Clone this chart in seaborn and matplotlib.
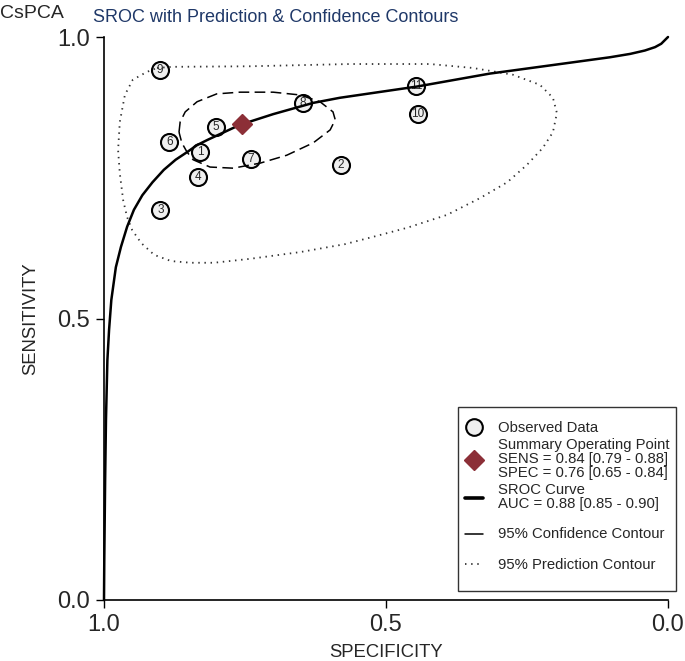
import matplotlib
matplotlib.use("Agg")
import matplotlib.pyplot as plt
from matplotlib.lines import Line2D
import seaborn as sns
import pandas as pd

# observed studies
study_ids = ["1", "2", "3", "4", "5", "6", "7", "8", "9", "10", "11"]
study_spec = [0.830, 0.580, 0.900, 0.833, 0.802, 0.884, 0.740, 0.647, 0.901, 0.443, 0.447]
study_sens = [0.796, 0.773, 0.693, 0.751, 0.840, 0.813, 0.783, 0.883, 0.941, 0.863, 0.913]

# summary operating point
summary_spec = [0.755]
summary_sens = [0.845]

# SROC curve
sroc_spec = [1.000, 0.9995, 0.998, 0.9965, 0.994, 0.991, 0.987, 0.979, 0.970, 0.959,
             0.947, 0.932, 0.914, 0.894, 0.873, 0.852, 0.835, 0.817, 0.759, 0.700,
             0.629, 0.582, 0.445, 0.316, 0.191, 0.103, 0.067, 0.041, 0.023, 0.012,
             0.005, 0.000]
sroc_sens = [0.000, 0.071, 0.213, 0.320, 0.426, 0.480, 0.533, 0.591, 0.627, 0.663,
             0.693, 0.719, 0.742, 0.764, 0.782, 0.796, 0.808, 0.817, 0.844, 0.863,
             0.883, 0.892, 0.912, 0.935, 0.952, 0.964, 0.970, 0.976, 0.982, 0.988,
             0.995, 1.000]

# 95% confidence contour
conf_spec = [0.867, 0.865, 0.856, 0.835, 0.800, 0.759, 0.700, 0.652, 0.617, 0.594,
             0.590, 0.599, 0.629, 0.676, 0.723, 0.771, 0.812, 0.842, 0.853, 0.862, 0.867]
conf_sens = [0.831, 0.849, 0.867, 0.885, 0.899, 0.902, 0.902, 0.897, 0.885, 0.867,
             0.853, 0.835, 0.812, 0.790, 0.776, 0.767, 0.769, 0.782, 0.796, 0.812, 0.831]

# 95% prediction contour
pred_spec = [0.906, 0.879, 0.741, 0.564, 0.422, 0.346, 0.275, 0.227, 0.204, 0.197,
             0.204, 0.222, 0.250, 0.285, 0.333, 0.392, 0.463, 0.523, 0.573, 0.652,
             0.741, 0.805, 0.846, 0.881, 0.911, 0.934, 0.950, 0.959, 0.966, 0.972,
             0.975, 0.972, 0.963, 0.949, 0.924, 0.906]
pred_sens = [0.945, 0.947, 0.948, 0.952, 0.952, 0.945, 0.933, 0.915, 0.892, 0.865,
             0.831, 0.803, 0.773, 0.742, 0.714, 0.684, 0.661, 0.645, 0.632, 0.618,
             0.606, 0.599, 0.599, 0.602, 0.613, 0.634, 0.657, 0.680, 0.710, 0.758,
             0.799, 0.849, 0.897, 0.924, 0.938, 0.945]

ticks = [0.0, 0.5, 1.0]
tick_labels = ["0.0", "0.5", "1.0"]
legend_labels = [
    "Observed Data",
    "Summary Operating Point\nSENS = 0.84 [0.79 - 0.88]\nSPEC = 0.76 [0.65 - 0.84]",
    "SROC Curve\nAUC = 0.88 [0.85 - 0.90]",
    "95% Confidence Contour",
    "95% Prediction Contour",
]

sns.set_style("ticks")
plt.rcParams["font.family"] = ["Liberation Sans", "DejaVu Sans"]

diamond_color = "#8c2f37"

fig = plt.figure(figsize=(6.85, 6.61), dpi=100)
ax = fig.add_axes([104 / 685, 61 / 661, 564 / 685, 563 / 661])

df_studies = pd.DataFrame({"spec": study_spec, "sens": study_sens, "id": study_ids})
sns.scatterplot(data=df_studies, x="spec", y="sens", ax=ax, s=150, color="#efefef",
                edgecolor="black", linewidth=1.5, zorder=2, clip_on=False)
for i in range(len(df_studies)):
    ax.text(df_studies["spec"][i], df_studies["sens"][i], df_studies["id"][i],
            ha="center", va="center", fontsize=8.5, zorder=3)

df_pred = pd.DataFrame({"spec": pred_spec, "sens": pred_sens})
sns.lineplot(data=df_pred, x="spec", y="sens", ax=ax, sort=False, estimator=None,
             color="#333333", lw=1.3, linestyle=(0, (0.8, 2.6)), zorder=4)

df_conf = pd.DataFrame({"spec": conf_spec, "sens": conf_sens})
sns.lineplot(data=df_conf, x="spec", y="sens", ax=ax, sort=False, estimator=None,
             color="black", lw=1.1, linestyle=(0, (7, 3.5)), zorder=4)

df_sroc = pd.DataFrame({"spec": sroc_spec, "sens": sroc_sens})
sns.lineplot(data=df_sroc, x="spec", y="sens", ax=ax, sort=False, estimator=None,
             color="black", lw=1.8, zorder=5)
for ln in ax.lines:
    ln.set_clip_on(False)

ax.plot(summary_spec, summary_sens, marker="D", ms=10, color=diamond_color,
        ls="none", zorder=6, clip_on=False)

ax.set_xlim(1, 0)
ax.set_ylim(0, 1)
ax.set_xticks(ticks)
ax.set_xticklabels(tick_labels)
ax.set_yticks(ticks)
ax.set_yticklabels(tick_labels)
ax.tick_params(axis="both", direction="out", length=6, width=1.0, labelsize=17,
               pad=4, color="black")
for side in ["top", "right"]:
    ax.spines[side].set_visible(False)
for side in ["left", "bottom"]:
    ax.spines[side].set_color("black")
    ax.spines[side].set_linewidth(1.2)
ax.set_xlabel("SPECIFICITY", fontsize=13.3, labelpad=6)
ax.set_ylabel("SENSITIVITY", fontsize=13.3, labelpad=13)

# legend rows, with thin blank rows to space them like the original
spacer = Line2D([], [], ls="none")
handles = [
    Line2D([], [], marker="o", ls="none", ms=12, mfc="#efefef", mec="black", mew=1.5),
    Line2D([], [], marker="D", ls="none", ms=10, color=diamond_color),
    Line2D([], [], color="black", lw=2.6),
    spacer,
    Line2D([], [], color="black", lw=1.1),
    spacer,
    Line2D([], [], color="#333333", lw=1.3, ls=(0, (0.8, 2.6))),
    spacer,
]
labels = legend_labels[:3] + [" "] + [legend_labels[3]] + [" "] + [legend_labels[4]] + [" "]
leg = ax.legend(handles, labels, loc="lower right", bbox_to_anchor=(1.014, 0.016),
                borderaxespad=0, frameon=True, fancybox=False, framealpha=1,
                edgecolor="#333333", fontsize=10.7, handlelength=1.2, handleheight=0.3,
                handletextpad=1.0, labelspacing=0.2, borderpad=0.45,
                title=" ", title_fontsize=3)
leg.get_frame().set_linewidth(1.0)
leg_texts = leg.get_texts()
for t in leg_texts:
    t.set_linespacing(1.0)
leg_texts[3].set_fontsize(5)
leg_texts[5].set_fontsize(5)
leg_texts[7].set_fontsize(2)

fig.text(0.0, 1 - 14 / 661, "CsPCA", fontsize=14, ha="left", va="center")
fig.text(93 / 685, 1 - 17 / 661, "SROC with Prediction & Confidence Contours",
         fontsize=13, color="#1f3868", ha="left", va="center")

fig.savefig("out.png", dpi=100)
